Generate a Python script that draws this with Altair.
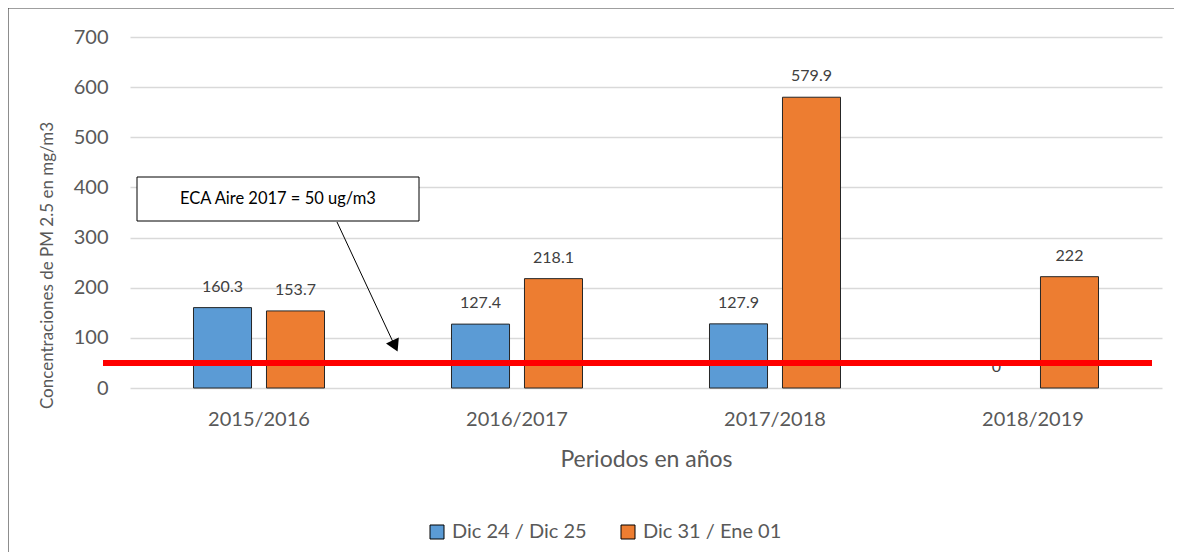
import altair as alt
import pandas as pd

periods = ["2015/2016", "2016/2017", "2017/2018", "2018/2019"]
series_names = ["Dic 24 / Dic 25", "Dic 31 / Ene 01"]
dic24 = [160.3, 127.4, 127.9, 0]
dic31 = [153.7, 218.1, 579.9, 222]
colors = ["#5B9BD5", "#ED7D31"]
y_ticks = [0, 100, 200, 300, 400, 500, 600, 700]
eca_limit = 50
annot_text = "ECA Aire 2017 = 50 ug/m3"

rows = []
for p, a, b in zip(periods, dic24, dic31):
    rows.append({"periodo": p, "serie": series_names[0], "valor": a})
    rows.append({"periodo": p, "serie": series_names[1], "valor": b})
df = pd.DataFrame(rows)

W, H = 1032, 351
FONT = "Lato"
one = alt.Data(values=[{"k": 1}])

x_enc = alt.X("periodo:N", sort=periods,
              scale=alt.Scale(paddingInner=0, paddingOuter=0),
              axis=alt.Axis(title="Periodos en años", labelAngle=0, ticks=False, tickSize=0,
                            domain=False, labelFontSize=20, labelColor="#595959",
                            labelPadding=31, labelBaseline="middle",
                            titleFontSize=23, titleFontWeight="normal", titleColor="#595959",
                            titleY=71, titleBaseline="middle"))
y_enc = alt.Y("valor:Q", scale=alt.Scale(domain=[0, 700], nice=False),
              axis=alt.Axis(title="Concentraciones de PM 2.5 en mg/m3", values=y_ticks,
                            ticks=False, tickSize=0, domain=False, labelFontSize=20,
                            labelColor="#595959", labelPadding=22,
                            gridColor="#D9D9D9", gridWidth=1.5,
                            titleFontSize=17, titleFontWeight="normal", titleColor="#595959",
                            titleX=-83, titleY=228, titleAngle=270,
                            titleBaseline="middle", titleAlign="center"))
xoff = alt.XOffset("serie:N", sort=series_names,
                   scale=alt.Scale(paddingInner=0.205, paddingOuter=0.87))

bars = alt.Chart(df).mark_bar(stroke="#262626").encode(
    x=x_enc, y=y_enc, xOffset=xoff,
    strokeWidth=alt.condition("datum.valor > 0", alt.value(1), alt.value(0)),
    color=alt.Color("serie:N", sort=series_names,
                    scale=alt.Scale(domain=series_names, range=colors),
                    legend=alt.Legend(title=None, orient="none", legendX=297, legendY=485,
                                      direction="horizontal", columns=2, symbolType="square",
                                      symbolSize=196, symbolStrokeColor="#000000",
                                      symbolStrokeWidth=1, labelFontSize=20,
                                      labelColor="#595959", labelOffset=5,
                                      columnPadding=31, padding=0)),
)

labels = alt.Chart(df).mark_text(fontSize=16, color="#404040", baseline="middle", dy=-21).encode(
    x=alt.X("periodo:N", sort=periods), y="valor:Q",
    xOffset=alt.XOffset("serie:N", sort=series_names),
    text=alt.Text("valor:Q", format="~g"),
)

border_top = alt.Chart(one).mark_rule(color="#404040", strokeWidth=1.2).encode(
    x=alt.value(-122), x2=alt.value(1100), y=alt.value(-29))
border_left = alt.Chart(one).mark_rule(color="#404040", strokeWidth=1.2).encode(
    x=alt.value(-122), y=alt.value(-29), y2=alt.value(700))

red = alt.Chart(one).mark_rule(color="#FF0000", strokeWidth=6).encode(
    y=alt.datum(eca_limit), x=alt.value(-27), x2=alt.value(1022))

box = alt.Chart(one).mark_rect(fill="white", stroke="#000000", strokeWidth=1).encode(
    x=alt.value(7), x2=alt.value(289), y=alt.value(140), y2=alt.value(184))

box_text = alt.Chart(one).mark_text(fontSize=16.5, color="#000000", align="center",
                                    baseline="middle").encode(
    x=alt.value(148), y=alt.value(162), text=alt.value(annot_text))

arrow_line = alt.Chart(one).mark_rule(color="#000000", strokeWidth=1).encode(
    x=alt.value(207), y=alt.value(185), x2=alt.value(263), y2=alt.value(305))

arrow_head = alt.Chart(one).mark_point(shape="triangle-down", filled=True, color="#000000",
                                       size=200, angle=335, opacity=1).encode(
    x=alt.value(265), y=alt.value(309))

chart = alt.layer(border_top, border_left, bars, labels, red, box, box_text,
                  arrow_line, arrow_head).properties(
    width=W, height=H,
    autosize=alt.AutoSizeParams(type="none"),
    padding={"left": 122, "top": 29, "right": 12, "bottom": 164},
).configure(font=FONT).configure_view(stroke=None)

chart.save("out.html", embed_options={"renderer": "svg", "actions": False})
